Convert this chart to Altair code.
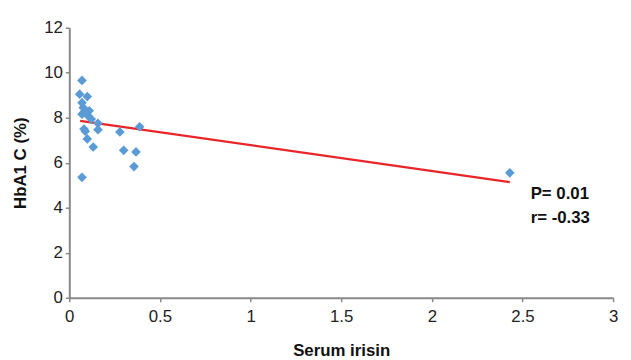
import altair as alt
import pandas as pd

irisin = [0.070, 0.057, 0.099, 0.070, 0.077, 0.070, 0.088, 0.110, 0.103, 0.121,
          0.081, 0.088, 0.158, 0.158, 0.099, 0.132, 0.070, 0.279, 0.388, 0.300,
          0.368, 0.357, 2.430]
hba1c = [9.66, 9.05, 8.94, 8.67, 8.45, 8.16, 8.31, 8.31, 8.09, 7.94,
         7.50, 7.40, 7.75, 7.47, 7.06, 6.70, 5.35, 7.37, 7.60, 6.55,
         6.48, 5.83, 5.55]

trend_x = [0.06, 2.43]
trend_y = [7.86, 5.14]

note_text = ["P= 0.01", "r= -0.33"]
note_x = [2.545, 2.545]
note_y = [4.62, 3.52]

pts = pd.DataFrame({"x": irisin, "y": hba1c})
trend = pd.DataFrame({"x": trend_x, "y": trend_y})
notes = pd.DataFrame({"t": note_text, "x": note_x, "y": note_y})

xs = alt.Scale(domain=[0, 3], nice=False)
ys = alt.Scale(domain=[0, 12], nice=False)

xaxis = alt.Axis(values=[0, 0.5, 1, 1.5, 2, 2.5, 3], title="Serum irisin", format="~g",
                 grid=False, labelFontSize=17, titleFontSize=17, titleFontWeight="bold",
                 titlePadding=18, labelPadding=7, labelFlush=False)
yaxis = alt.Axis(values=[0, 2, 4, 6, 8, 10, 12], title="HbA1 C (%)",
                 grid=False, labelFontSize=17, titleFontSize=17, titleFontWeight="bold",
                 titlePadding=14, labelPadding=3)

points = alt.Chart(pts).mark_point(shape="diamond", filled=True, size=95,
                                   color="#5B9BD5", opacity=1).encode(
    x=alt.X("x:Q", scale=xs, axis=xaxis),
    y=alt.Y("y:Q", scale=ys, axis=yaxis),
)

line = alt.Chart(trend).mark_line(color="#E8262A", strokeWidth=2.2).encode(
    x=alt.X("x:Q", scale=xs), y=alt.Y("y:Q", scale=ys)
)

text = alt.Chart(notes).mark_text(align="left", baseline="middle", fontSize=17,
                                  fontWeight="bold", color="#111111").encode(
    x=alt.X("x:Q", scale=xs), y=alt.Y("y:Q", scale=ys), text="t:N"
)

chart = alt.layer(line, points, text).properties(
    width=550, height=273,
    autosize=alt.AutoSizeParams(type="none"),
    padding={"left": 62, "top": 18, "right": 10, "bottom": 60},
).configure_view(stroke=None).configure_axis(
    domainColor="#888888", tickColor="#888888", domainWidth=2, tickWidth=1.5,
    tickSize=4, labelColor="#222222", titleColor="#111111",
    labelFont="Liberation Sans", titleFont="Liberation Sans",
).configure_text(font="Liberation Sans")

chart.save("out.html", embed_options={"renderer": "svg", "actions": False})
